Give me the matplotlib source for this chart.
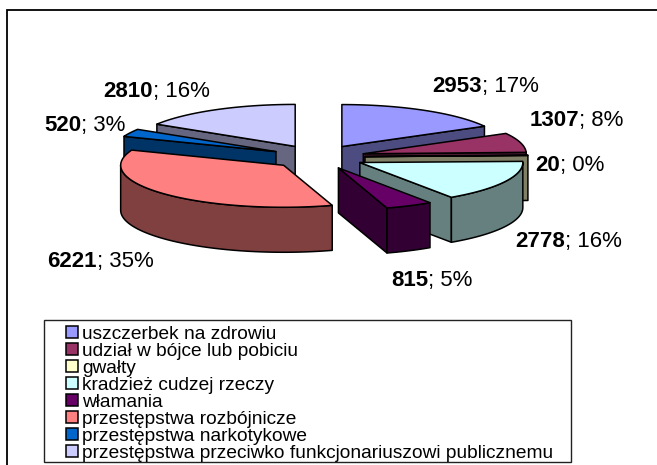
import numpy as np
import matplotlib
matplotlib.use("Agg")
import matplotlib.pyplot as plt
from matplotlib.patches import Polygon, Rectangle, Patch

plt.rcParams['font.family'] = ['Liberation Sans', 'DejaVu Sans']

# -------------------------------------------------
# Data
# -------------------------------------------------
names = ["uszczerbek na zdrowiu", "udział w bójce lub pobiciu", "gwałty",
         "kradzież cudzej rzeczy", "włamania", "przestępstwa rozbójnicze",
         "przestępstwa narkotykowe",
         "przestępstwa przeciwko funkcjonariuszowi publicznemu"]
values = np.array([2953, 1307, 20, 2778, 815, 6221, 520, 2810])
percents = [17, 8, 0, 16, 5, 35, 3, 16]
colors = ["#9999FF", "#993366", "#FFFFCC", "#CCFFFF",
          "#660066", "#FF8080", "#0066CC", "#CCCCFF"]
wall_colors = ["#4C4C80", "#4C1933", "#808066", "#668080",
               "#330033", "#804040", "#003366", "#666680"]

# -------------------------------------------------
# Pie geometry (pixels of the picture)
# -------------------------------------------------
cx, cy = 318, 157
rx, ry = 163, 42
explode = 47
depth = 45

# bold value ends at split x, baseline y
label_pos = [(482, 92), (579, 126), (560, 171), (565, 247),
             (428, 286), (97, 267), (81, 131), (153, 97)]


def rim(angle, ox, oy):
    return np.column_stack([ox + rx * np.sin(angle), oy - ry * np.cos(angle)])


fig = plt.figure(figsize=(6.57, 4.65), dpi=100)
ax = fig.add_axes([0, 0, 1, 1])
ax.set_xlim(0, 657)
ax.set_ylim(465, 0)
ax.axis("off")

# chart frame, only top and left are inside the picture
ax.plot([6.5, 6.5, 657], [465, 10, 10], color="black", lw=1.3, solid_joinstyle="miter")

edges = 2 * np.pi * np.concatenate([[0], np.cumsum(values)]) / values.sum()
mids = (edges[:-1] + edges[1:]) / 2

# back slices first
for i in np.argsort(-np.cos(mids), kind="stable"):
    a0, a1 = edges[i], edges[i + 1]
    ox = cx + explode * np.sin(mids[i])
    oy = cy - explode * ry / rx * np.cos(mids[i])
    kw = dict(ec="black", lw=1.1, joinstyle="round")
    arc = rim(np.linspace(a0, a1, 60), ox, oy)
    apex = np.array([ox, oy])
    down = np.array([0, depth])

    # flat side faces, only where they look to the front
    if np.cos(a1 + np.pi / 2) < -1e-6:
        ax.add_patch(Polygon([apex, arc[-1], arc[-1] + down, apex + down],
                             fc=wall_colors[i], **kw))
    if np.cos(a0 - np.pi / 2) < -1e-6:
        ax.add_patch(Polygon([apex, arc[0], arc[0] + down, apex + down],
                             fc=wall_colors[i], **kw))

    # curved outer wall, front half of the rim
    lo, hi = max(a0, np.pi / 2), min(a1, 3 * np.pi / 2)
    if lo < hi:
        front = rim(np.linspace(lo, hi, 60), ox, oy)
        ax.add_patch(Polygon(np.vstack([front, front[::-1] + down]),
                             fc=wall_colors[i], **kw))

    ax.add_patch(Polygon(np.vstack([apex, arc]), fc=colors[i], **kw))

# data labels
for v, p, (x, y) in zip(values, percents, label_pos):
    ax.text(x, y, str(v), fontsize=16, fontweight="bold", ha="right", va="baseline")
    ax.text(x, y, f"; {p}%", fontsize=16, ha="left", va="baseline")

# legend
ax.add_patch(Rectangle((44, 320), 527, 142, fc="white", ec="#222222", lw=1, zorder=4))
handles = [Patch(fc=c, ec="black", lw=1.1) for c in colors]
leg = ax.legend(handles, names, loc="upper left", bbox_to_anchor=(65.5 / 657, 1 - 326 / 465),
                frameon=False, fontsize=13.75, labelspacing=0.0, borderpad=0, borderaxespad=0,
                handlelength=0.63, handleheight=0.6, handletextpad=0.26)
leg.set_zorder(5)

fig.savefig("out.png", dpi=100)
